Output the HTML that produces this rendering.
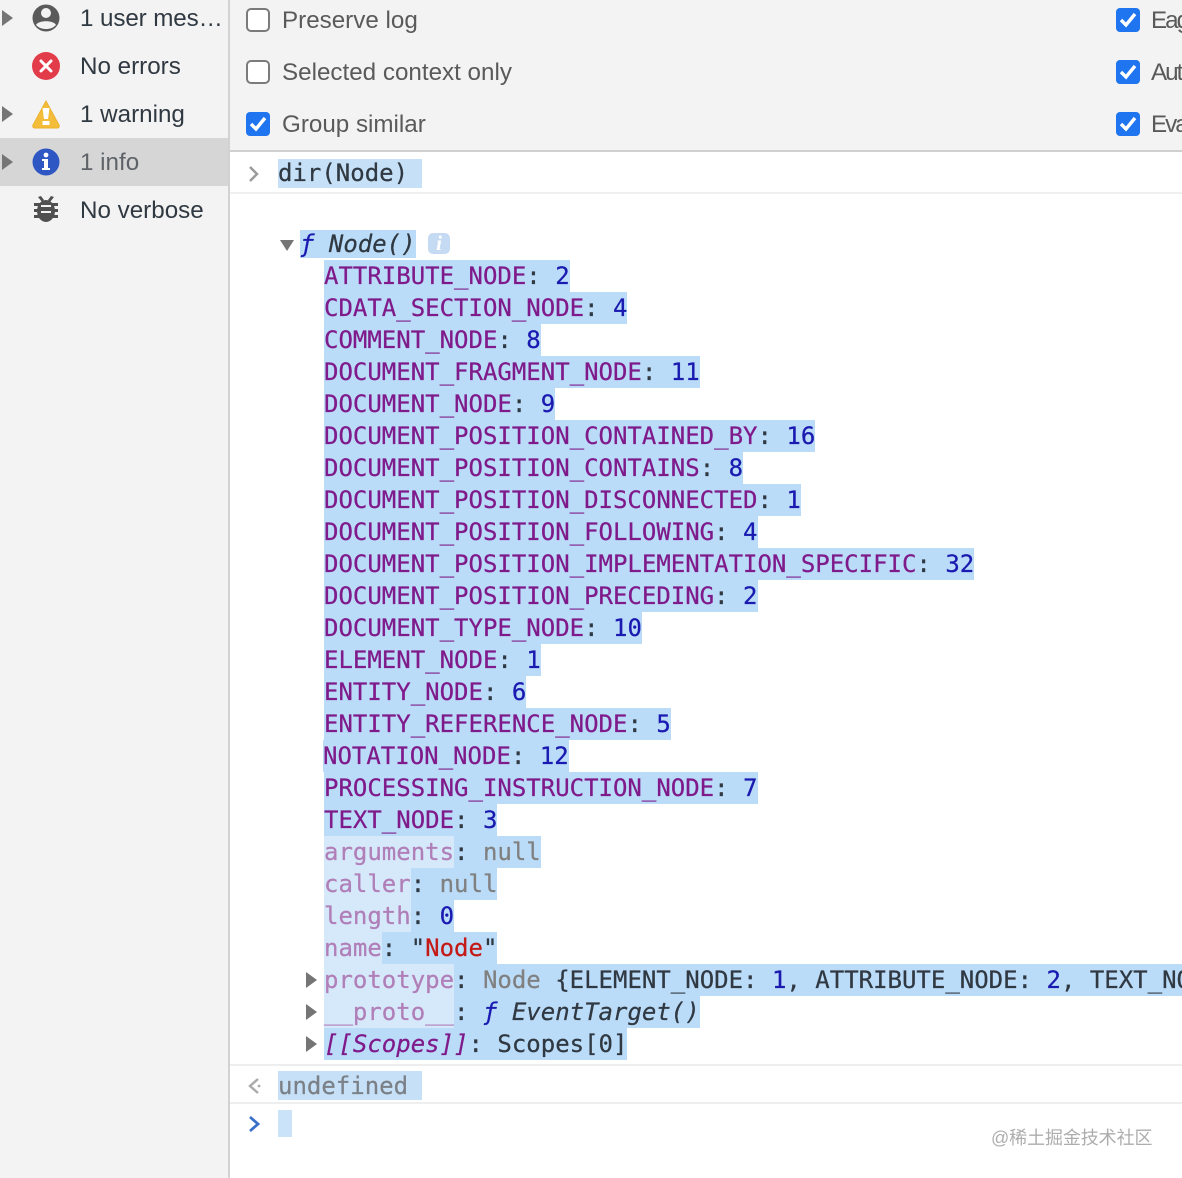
<!DOCTYPE html>
<html><head><meta charset="utf-8"><style>
html,body{margin:0;padding:0;background:#fff}
#p{position:relative;width:1182px;height:1178px;overflow:hidden;background:#fff}
.a{position:absolute}
.s{font-family:"Liberation Sans",Arial,sans-serif;font-size:24.2px;line-height:32px;white-space:nowrap;color:#303942}
.c{font-family:"Liberation Sans",Arial,sans-serif;font-size:24.2px;line-height:32px;white-space:nowrap;color:#5a5a5a}
.r{position:absolute;left:324px;height:32px;white-space:pre;font-family:"DejaVu Sans Mono","Liberation Mono",monospace;font-size:24px;line-height:32px;color:#303942;-webkit-text-stroke:.25px currentColor}
.r span{display:inline-block;height:32px;vertical-align:top;background:#bbdcf9}
.k{color:#7f1a8a}.v{color:#1a1ab0}
.r span.f{background:#d6e9fb;color:#b07fb8}
.g{color:#808080}
b{font-weight:400}
.m{font-family:"DejaVu Sans Mono","Liberation Mono",monospace;font-size:24px;line-height:32px;white-space:pre;-webkit-text-stroke:.25px currentColor}
</style></head><body><div id="p">
<div class="a" style="left:0;top:0;width:228px;height:1178px;background:#f3f3f3"></div>
<div class="a" style="left:228px;top:0;width:2px;height:1178px;background:#d2d2d2"></div>
<div class="a" style="left:230px;top:0;width:952px;height:150px;background:#f3f3f3"></div>
<div class="a" style="left:230px;top:150px;width:952px;height:2px;background:#d0d0d0"></div>
<div class="a" style="left:0;top:138px;width:228px;height:48px;background:#d6d6d6"></div>
<div class="a" style="left:230px;top:192px;width:952px;height:2px;background:#f0f0f0"></div>
<div class="a" style="left:230px;top:1064px;width:952px;height:2px;background:#eeeeee"></div>
<div class="a" style="left:230px;top:1102px;width:952px;height:2px;background:#eeeeee"></div>

<div class="s a" style="left:80px;top:3px;letter-spacing:-.1px">1 user mes…</div>
<div class="s a" style="left:80px;top:51px">No errors</div>
<div class="s a" style="left:80px;top:99px">1 warning</div>
<div class="s a" style="left:80px;top:147px;color:#5f6368">1 info</div>
<div class="s a" style="left:80px;top:195px">No verbose</div>

<div class="c a" style="left:282px;top:5px">Preserve log</div>
<div class="c a" style="left:282px;top:57px">Selected context only</div>
<div class="c a" style="left:282px;top:109px">Group similar</div>
<div class="c a" style="left:1151px;top:5px;letter-spacing:-2px">Eag</div>
<div class="c a" style="left:1151px;top:57px;letter-spacing:-2px">Aut</div>
<div class="c a" style="left:1151px;top:109px;letter-spacing:-2px">Eva</div>

<svg class="a" style="left:0;top:0" width="1182" height="1178" viewBox="0 0 1182 1178">
<g fill="#757575">
<path d="M2 10l11 8-11 8z"/><path d="M2 106l11 8-11 8z"/><path d="M2 154l11 8-11 8z"/>
<path d="M280 240h14l-7 11z"/>
<path d="M306 972l11 8-11 8z"/><path d="M306 1004l11 8-11 8z"/><path d="M306 1036l11 8-11 8z"/>
</g>
<circle cx="46" cy="18" r="13.5" fill="#5a5a5a"/>
<circle cx="46" cy="13" r="5" fill="#f3f3f3"/>
<path d="M36 25c2-5 18-5 20 0c-3 3-6 4-10 4s-7-1-10-4z" fill="#f3f3f3"/>
<circle cx="46" cy="66" r="14" fill="#e23b4a"/>
<path d="M41 61l10 10M51 61l-10 10" stroke="#fff" stroke-width="3" stroke-linecap="round"/>
<path d="M46 101L33 125a2 2 0 0 0 2 3h22a2 2 0 0 0 2-3z" fill="#f3bd3a" stroke="#ecb02e" stroke-width="1"/>
<path d="M42.5 108h7l-1.5 11h-4z" fill="#fff"/>
<rect x="42.5" y="121" width="7" height="4" fill="#fff"/>
<circle cx="46" cy="162" r="13.5" fill="#2f57c4"/>
<circle cx="46" cy="155" r="2.4" fill="#fff"/>
<path d="M42 159h6v9h2v2h-8v-2h2v-7h-2z" fill="#fff"/>
<g fill="#505050">
<ellipse cx="46" cy="211" rx="9" ry="11"/>
<path d="M34 203h24v3H34zM34 209h24v3H34zM34 215h24v3H34zM38 197l3-1 3 4-2 2zM54 197l-3-1-3 4 2 2z"/>
</g>
<rect x="41" y="205" width="10" height="2" fill="#f3f3f3"/><rect x="41" y="211" width="10" height="2" fill="#f3f3f3"/>
<g fill="#fff" stroke="#7b7b7b" stroke-width="2">
<rect x="247" y="9" width="22" height="22" rx="4"/>
<rect x="247" y="61" width="22" height="22" rx="4"/>
</g>
<g fill="#1f75f0">
<rect x="246" y="112" width="24" height="24" rx="4"/>
<rect x="1116" y="8" width="24" height="24" rx="4"/>
<rect x="1116" y="60" width="24" height="24" rx="4"/>
<rect x="1116" y="112" width="24" height="24" rx="4"/>
</g>
<g fill="none" stroke="#fff" stroke-width="3.4">
<path d="M251 124l5 5 9-11"/>
<path d="M1121 20l5 5 9-11"/>
<path d="M1121 72l5 5 9-11"/>
<path d="M1121 124l5 5 9-11"/>
</g>
<path d="M250 167l7 7-7 7" fill="none" stroke="#9a9a9a" stroke-width="2.4"/>
<path d="M258 1079l-8 7 8 7" fill="none" stroke="#aaa" stroke-width="2.4"/>
<circle cx="259" cy="1086" r="1.4" fill="#aaa"/>
<path d="M250 1117l8 7-8 7" fill="none" stroke="#3b72c8" stroke-width="2.8"/>
</svg>

<div class="a" style="left:278px;top:159px;width:144px;height:29px;background:#c5e0f7"></div>
<div class="m a" style="left:278px;top:157px;color:#303942">dir(Node)</div>
<div class="a" style="left:278px;top:1071px;width:144px;height:29px;background:#c5e0f7"></div>
<div class="m a" style="left:278px;top:1070px;color:#7b8087">undefined</div>
<div class="a" style="left:278px;top:1110px;width:14px;height:27px;background:#cbe3f8"></div>

<div class="a" style="left:300px;top:230px;width:116px;height:28px;background:#bbdcf9"></div>
<div class="m a" style="left:300px;top:228px;font-style:italic;color:#303942"><span style="color:#1a1ab0">ƒ</span> Node()</div>
<div class="a" style="left:428px;top:233px;width:22px;height:21px;border-radius:5px;background:#c5daf3;color:#fff;font:italic bold 21px/21px 'Liberation Serif',serif;text-align:center">i</div>

<div class="r" style="top:260px"><span><b class="k">ATTRIBUTE_NODE</b>: <b class="v">2</b></span></div>
<div class="r" style="top:292px"><span><b class="k">CDATA_SECTION_NODE</b>: <b class="v">4</b></span></div>
<div class="r" style="top:324px"><span><b class="k">COMMENT_NODE</b>: <b class="v">8</b></span></div>
<div class="r" style="top:356px"><span><b class="k">DOCUMENT_FRAGMENT_NODE</b>: <b class="v">11</b></span></div>
<div class="r" style="top:388px"><span><b class="k">DOCUMENT_NODE</b>: <b class="v">9</b></span></div>
<div class="r" style="top:420px"><span><b class="k">DOCUMENT_POSITION_CONTAINED_BY</b>: <b class="v">16</b></span></div>
<div class="r" style="top:452px"><span><b class="k">DOCUMENT_POSITION_CONTAINS</b>: <b class="v">8</b></span></div>
<div class="r" style="top:484px"><span><b class="k">DOCUMENT_POSITION_DISCONNECTED</b>: <b class="v">1</b></span></div>
<div class="r" style="top:516px"><span><b class="k">DOCUMENT_POSITION_FOLLOWING</b>: <b class="v">4</b></span></div>
<div class="r" style="top:548px"><span><b class="k">DOCUMENT_POSITION_IMPLEMENTATION_SPECIFIC</b>: <b class="v">32</b></span></div>
<div class="r" style="top:580px"><span><b class="k">DOCUMENT_POSITION_PRECEDING</b>: <b class="v">2</b></span></div>
<div class="r" style="top:612px"><span><b class="k">DOCUMENT_TYPE_NODE</b>: <b class="v">10</b></span></div>
<div class="r" style="top:644px"><span><b class="k">ELEMENT_NODE</b>: <b class="v">1</b></span></div>
<div class="r" style="top:676px"><span><b class="k">ENTITY_NODE</b>: <b class="v">6</b></span></div>
<div class="r" style="top:708px"><span><b class="k">ENTITY_REFERENCE_NODE</b>: <b class="v">5</b></span></div>
<div class="r" style="top:740px;left:323px"><span><b class="k">NOTATION_NODE</b>: <b class="v">12</b></span></div>
<div class="r" style="top:772px"><span><b class="k">PROCESSING_INSTRUCTION_NODE</b>: <b class="v">7</b></span></div>
<div class="r" style="top:804px"><span><b class="k">TEXT_NODE</b>: <b class="v">3</b></span></div>
<div class="r" style="top:836px"><span class="f">arguments</span><span>: <b class="g">null</b></span></div>
<div class="r" style="top:868px"><span class="f">caller</span><span>: <b class="g">null</b></span></div>
<div class="r" style="top:900px"><span class="f">length</span><span>: <b class="v">0</b></span></div>
<div class="r" style="top:932px"><span class="f">name</span><span>: "<b style="color:#c41a16">Node</b>"</span></div>
<div class="r" style="top:964px;width:858px;overflow:hidden"><span class="f">prototype</span><span style="width:800px">: <b class="g">Node</b> {ELEMENT_NODE: <b class="v">1</b>, ATTRIBUTE_NODE: <b class="v">2</b>, TEXT_NODE: <b class="v">3</b></span></div>
<div class="r" style="top:996px"><span class="f">__proto__</span><span>: <i class="v">ƒ</i> <i>EventTarget()</i></span></div>
<div class="r" style="top:1028px"><span><i class="k">[[Scopes]]</i>: Scopes[0]</span></div>

<div class="a" style="left:991px;top:1127px;font-family:'Liberation Sans','Noto Sans CJK SC',sans-serif;font-size:18px;line-height:22px;color:#adadad;white-space:nowrap;letter-spacing:-.1px">@稀土掘金技术社区</div>
</div></body></html>
